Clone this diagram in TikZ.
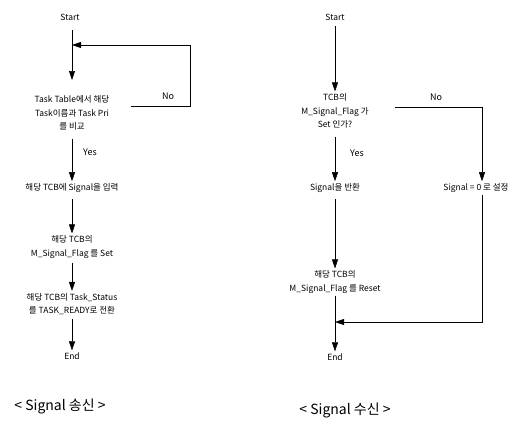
\documentclass[tikz,border=0pt]{standalone}
\usepackage{fontspec}
\setmainfont{Noto Sans CJK KR}
\usetikzlibrary{arrows.meta,positioning,calc}
\tikzset{
  lbl/.style={align=center, inner sep=2pt, font=\fontsize{8.5}{13.5}\selectfont},
  term/.style={lbl},
  tag/.style={inner sep=1pt, font=\fontsize{9}{11}\selectfont},
  caption/.style={inner sep=1pt, font=\fontsize{14}{16}\selectfont},
  arr/.style={-{Triangle[length=9pt,width=6pt]}, line width=0.5pt, draw=black}
}
\begin{document}
\begin{tikzpicture}[x=1pt,y=-1pt]
\useasboundingbox (0,0) rectangle (526,420);
% Signal send
\node[term] (start1) at (70,17) {Start};
\node[lbl] (dec1) at (72,113) {Task Table에서 해당\\Task이름과 Task Pri\\를 비교};
\node[lbl] (put1) at (72,188) {해당 TCB에 Signal을 입력};
\node[lbl] (set1) at (72,247) {해당 TCB의\\M\_Signal\_Flag 를 Set};
\node[lbl] (stat1) at (72,304) {해당 TCB의 Task\_Status\\를 TASK\_READY로 전환};
\node[term] (end1) at (72,356) {End};
\node[caption] (cap1) at (60,406) {< Signal 송신 >};
\coordinate (j1) at (72,45);
\coordinate (tip1) at (72,80);
\coordinate (loop1) at (190,45);
\draw[arr, shorten <=8pt] (start1.south -| tip1) -- (tip1);
\draw[arr] ([xshift=20pt,yshift=7pt]dec1.east) -| (loop1) -- (j1);
\node[tag] (no1) at (168,96) {No};
\draw[arr, shorten <=6pt] (dec1) -- (put1);
\node[tag] (yes1) at (90,152) {Yes};
\draw[arr, shorten <=4pt] (put1) -- (set1);
\draw[arr, shorten <=2pt] (set1) -- (stat1);
\draw[arr, shorten <=2pt] (stat1) -- (end1);
% Signal receive
\node[term] (start2) at (335,17) {Start};
\node[lbl] (dec2) at (335,111) {TCB의\\M\_Signal\_Flag 가\\Set 인가?};
\node[lbl] (ret2) at (335,188) {Signal을 반환};
\node[lbl] (sig2) at (476,188) {Signal = 0 로 설정};
\node[lbl] (reset2) at (335,282) {해당 TCB의\\M\_Signal\_Flag 를 Reset};
\node[term] (end2) at (335,357) {End};
\node[caption] (cap2) at (345,410) {< Signal 수신 >};
\coordinate (j2) at (335,322);
\draw[arr, shorten <=4pt] (start2) -- (dec2);
\draw[arr] ([xshift=24pt,yshift=4pt]dec2.east) -| ([xshift=6pt]sig2.north);
\node[tag] (no2) at (436,97) {No};
\draw[arr, shorten <=6pt] (dec2) -- (ret2);
\node[tag] (yes2) at (357,153) {Yes};
\draw[arr, shorten <=4pt] (ret2) -- (reset2);
\draw[arr] (reset2) -- (end2);
\draw[arr] ([xshift=6pt]sig2.south) |- (j2);
\end{tikzpicture}
\end{document}
